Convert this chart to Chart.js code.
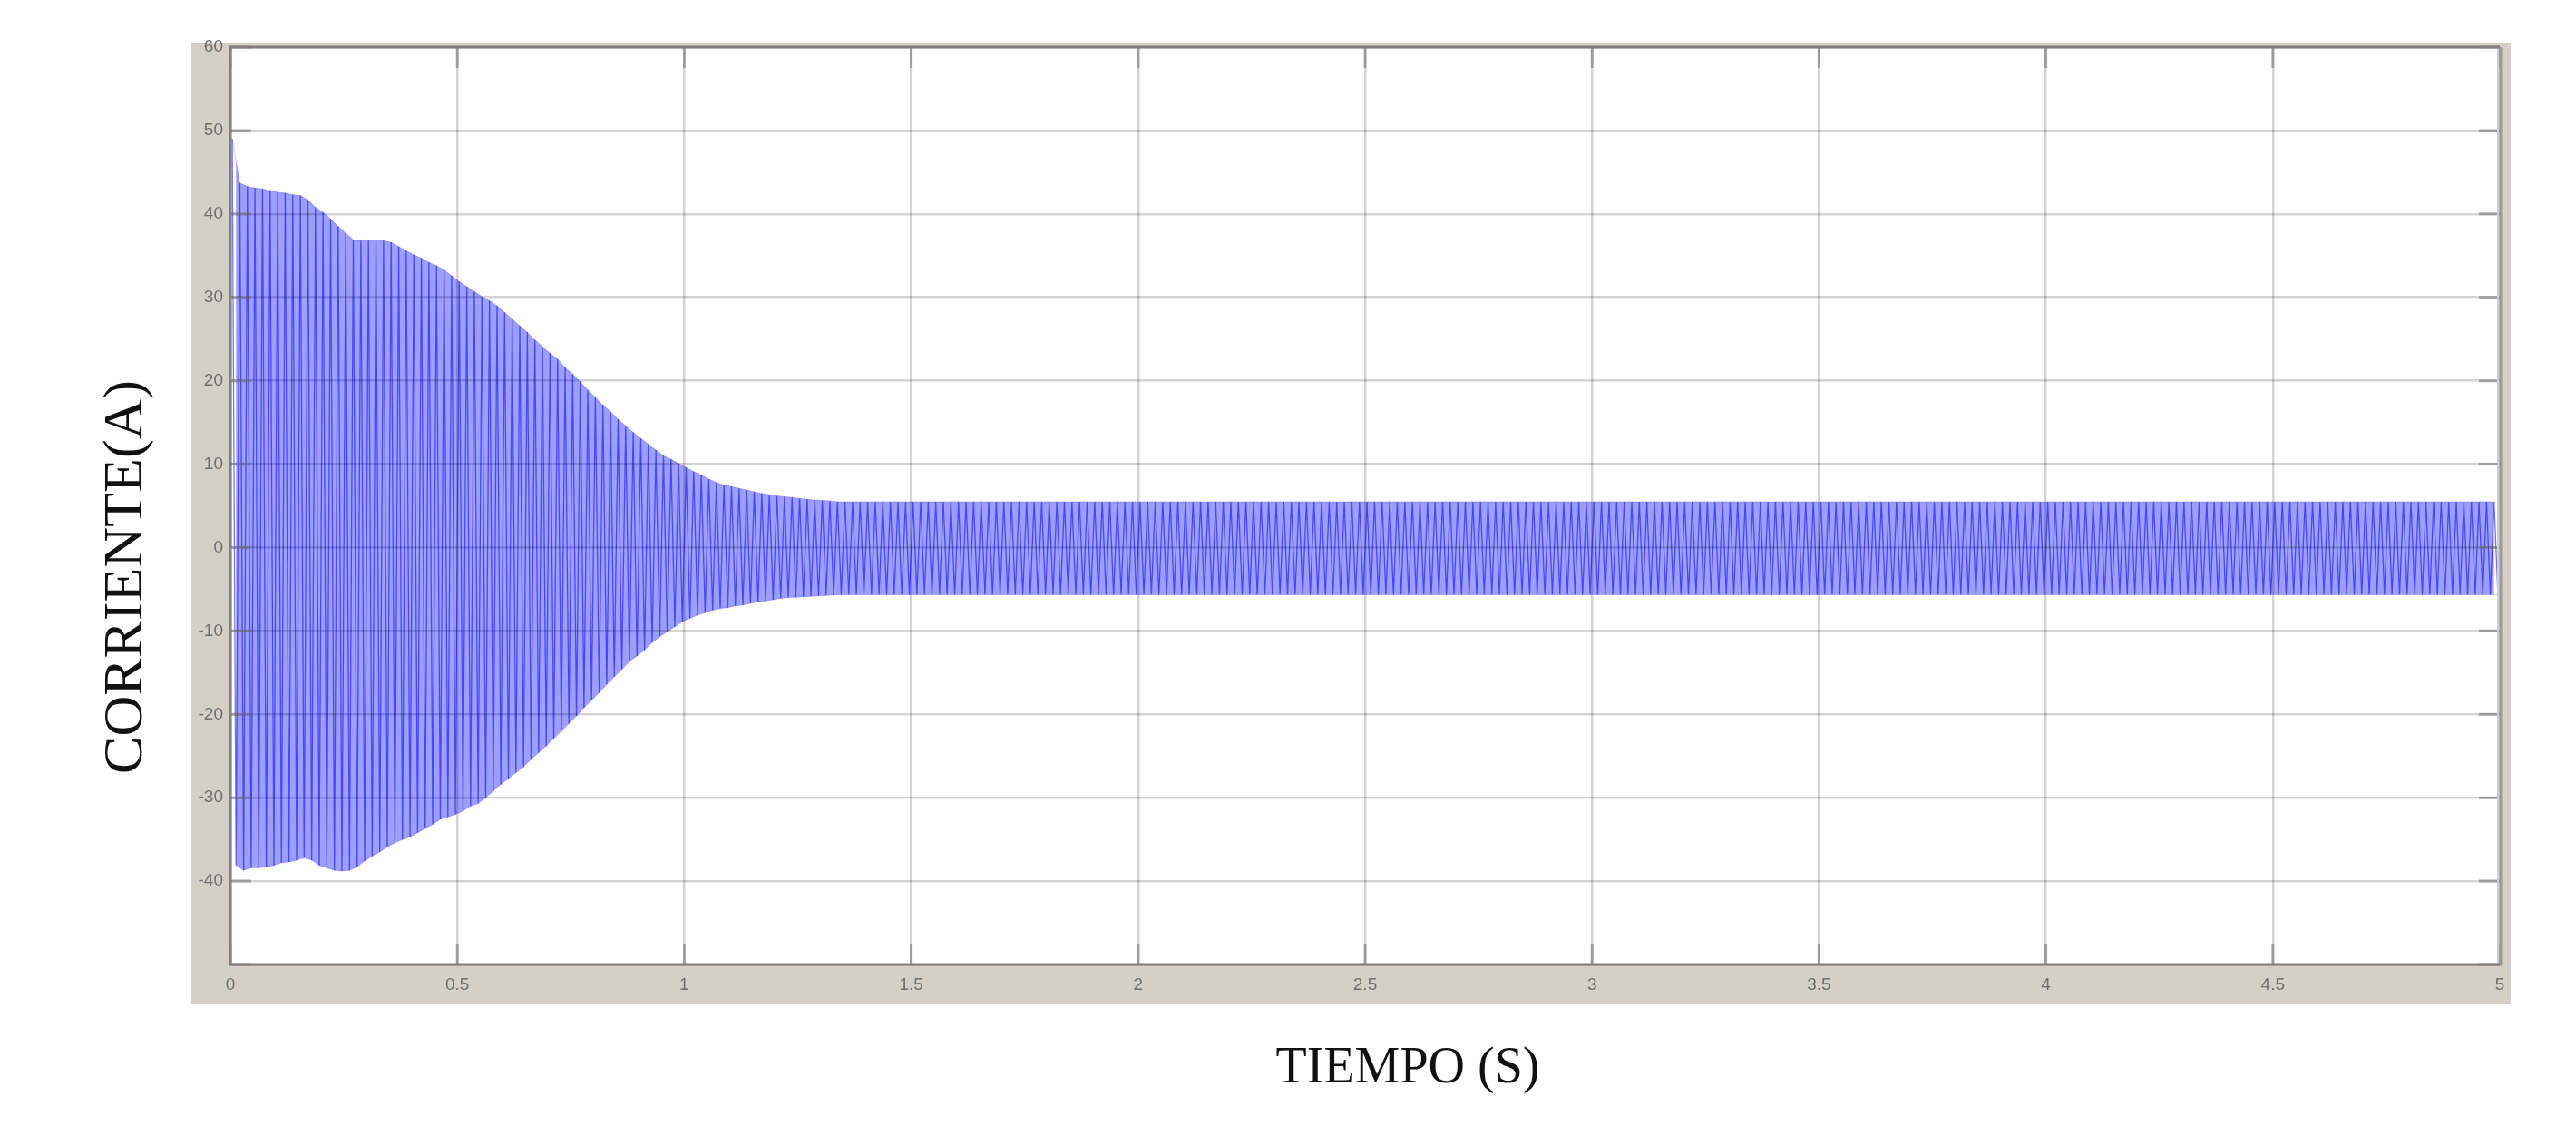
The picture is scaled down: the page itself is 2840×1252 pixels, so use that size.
<!DOCTYPE html>
<html>
<head>
<meta charset="utf-8">
<script src="https://cdn.jsdelivr.net/npm/chart.js@4/dist/chart.umd.min.js"></script>
<style>
  html, body { margin: 0; padding: 0; background: #ffffff; }
  canvas { display: block; }
</style>
</head>
<body>
<canvas id="c" width="2840" height="1252"></canvas>
<script>
// ---- Data ----
const xAxisTitle = "TIEMPO (S)";
const yAxisTitle = "CORRIENTE(A)";
const xTicks = [0, 0.5, 1, 1.5, 2, 2.5, 3, 3.5, 4, 4.5, 5];
const yTicks = [60, 50, 40, 30, 20, 10, 0, -10, -20, -30, -40];
const supplyFrequencyHz = 60; // 30 cycles every 0.5 s

// positive peak of each cycle (A)
const peakCurrent = [
  49.0, 43.7, 43.3, 43.1, 43.0, 42.8, 42.6, 42.5, 42.3, 42.2,
  41.7, 40.8, 40.2, 39.4, 38.5, 37.7, 36.9, 36.8, 36.8, 36.8,
  36.8, 36.6, 36.1, 35.6, 35.1, 34.7, 34.2, 33.8, 33.3, 32.6,
  31.9, 31.3, 30.7, 30.1, 29.6, 29.0, 28.2, 27.4, 26.6, 25.8,
  24.9, 24.1, 23.3, 22.6, 21.6, 20.8, 19.9, 18.9, 18.0, 17.1,
  16.3, 15.4, 14.6, 13.8, 13.1, 12.4, 11.7, 11.0, 10.6, 10.1,
  9.6, 9.1, 8.7, 8.2, 7.8, 7.5, 7.3, 7.1, 6.9, 6.7,
  6.5, 6.35, 6.2, 6.1, 6.0, 5.9, 5.8, 5.7, 5.65, 5.6,
  5.5,5.5,5.5,5.5,5.5,5.5,5.5,5.5,5.5,5.5,5.5,5.5,5.5,5.5,5.5,5.5,5.5,5.5,5.5,5.5,
  5.5,5.5,5.5,5.5,5.5,5.5,5.5,5.5,5.5,5.5,5.5,5.5,5.5,5.5,5.5,5.5,5.5,5.5,5.5,5.5,
  5.5,5.5,5.5,5.5,5.5,5.5,5.5,5.5,5.5,5.5,5.5,5.5,5.5,5.5,5.5,5.5,5.5,5.5,5.5,5.5,
  5.5,5.5,5.5,5.5,5.5,5.5,5.5,5.5,5.5,5.5,5.5,5.5,5.5,5.5,5.5,5.5,5.5,5.5,5.5,5.5,
  5.5,5.5,5.5,5.5,5.5,5.5,5.5,5.5,5.5,5.5,5.5,5.5,5.5,5.5,5.5,5.5,5.5,5.5,5.5,5.5,
  5.5,5.5,5.5,5.5,5.5,5.5,5.5,5.5,5.5,5.5,5.5,5.5,5.5,5.5,5.5,5.5,5.5,5.5,5.5,5.5,
  5.5,5.5,5.5,5.5,5.5,5.5,5.5,5.5,5.5,5.5,5.5,5.5,5.5,5.5,5.5,5.5,5.5,5.5,5.5,5.5,
  5.5,5.5,5.5,5.5,5.5,5.5,5.5,5.5,5.5,5.5,5.5,5.5,5.5,5.5,5.5,5.5,5.5,5.5,5.5,5.5,
  5.5,5.5,5.5,5.5,5.5,5.5,5.5,5.5,5.5,5.5,5.5,5.5,5.5,5.5,5.5,5.5,5.5,5.5,5.5,5.5,
  5.5,5.5,5.5,5.5,5.5,5.5,5.5,5.5,5.5,5.5,5.5,5.5,5.5,5.5,5.5,5.5,5.5,5.5,5.5,5.5,
  5.5,5.5,5.5,5.5,5.5,5.5,5.5,5.5,5.5,5.5,5.5,5.5,5.5,5.5,5.5,5.5,5.5,5.5,5.5,5.5
];

// negative peak of each cycle (A)
const troughCurrent = [
  -38.1, -38.7, -38.4, -38.4, -38.3, -38.1, -37.8, -37.7, -37.5, -37.2,
  -37.5, -38.1, -38.4, -38.7, -38.8, -38.7, -38.3, -37.6, -37.0, -36.5,
  -35.9, -35.4, -35.0, -34.7, -34.2, -33.7, -33.2, -32.6, -32.3, -32.0,
  -31.6, -31.0, -30.7, -30.0, -29.2, -28.4, -27.7, -27.0, -26.3, -25.4,
  -24.6, -23.8, -22.9, -22.0, -21.1, -20.2, -19.2, -18.3, -17.4, -16.4,
  -15.5, -14.6, -13.7, -13.0, -12.3, -11.4, -10.7, -10.1, -9.5, -8.9,
  -8.5, -8.1, -7.8, -7.5, -7.3, -7.2, -7.0, -6.9, -6.7, -6.5,
  -6.4, -6.25, -6.1, -6.0, -5.95, -5.9, -5.85, -5.8, -5.75, -5.7,
  -5.65,-5.65,-5.65,-5.65,-5.65,-5.65,-5.65,-5.65,-5.65,-5.65,-5.65,-5.65,-5.65,-5.65,-5.65,-5.65,-5.65,-5.65,-5.65,-5.65,
  -5.65,-5.65,-5.65,-5.65,-5.65,-5.65,-5.65,-5.65,-5.65,-5.65,-5.65,-5.65,-5.65,-5.65,-5.65,-5.65,-5.65,-5.65,-5.65,-5.65,
  -5.65,-5.65,-5.65,-5.65,-5.65,-5.65,-5.65,-5.65,-5.65,-5.65,-5.65,-5.65,-5.65,-5.65,-5.65,-5.65,-5.65,-5.65,-5.65,-5.65,
  -5.65,-5.65,-5.65,-5.65,-5.65,-5.65,-5.65,-5.65,-5.65,-5.65,-5.65,-5.65,-5.65,-5.65,-5.65,-5.65,-5.65,-5.65,-5.65,-5.65,
  -5.65,-5.65,-5.65,-5.65,-5.65,-5.65,-5.65,-5.65,-5.65,-5.65,-5.65,-5.65,-5.65,-5.65,-5.65,-5.65,-5.65,-5.65,-5.65,-5.65,
  -5.65,-5.65,-5.65,-5.65,-5.65,-5.65,-5.65,-5.65,-5.65,-5.65,-5.65,-5.65,-5.65,-5.65,-5.65,-5.65,-5.65,-5.65,-5.65,-5.65,
  -5.65,-5.65,-5.65,-5.65,-5.65,-5.65,-5.65,-5.65,-5.65,-5.65,-5.65,-5.65,-5.65,-5.65,-5.65,-5.65,-5.65,-5.65,-5.65,-5.65,
  -5.65,-5.65,-5.65,-5.65,-5.65,-5.65,-5.65,-5.65,-5.65,-5.65,-5.65,-5.65,-5.65,-5.65,-5.65,-5.65,-5.65,-5.65,-5.65,-5.65,
  -5.65,-5.65,-5.65,-5.65,-5.65,-5.65,-5.65,-5.65,-5.65,-5.65,-5.65,-5.65,-5.65,-5.65,-5.65,-5.65,-5.65,-5.65,-5.65,-5.65,
  -5.65,-5.65,-5.65,-5.65,-5.65,-5.65,-5.65,-5.65,-5.65,-5.65,-5.65,-5.65,-5.65,-5.65,-5.65,-5.65,-5.65,-5.65,-5.65,-5.65,
  -5.65,-5.65,-5.65,-5.65,-5.65,-5.65,-5.65,-5.65,-5.65,-5.65,-5.65,-5.65,-5.65,-5.65,-5.65,-5.65,-5.65,-5.65,-5.65,-5.65
];

// ---- Build the waveform points (peak then trough of each cycle) ----
const waveform = [];
const upperEnvelope = [];
const lowerEnvelope = [];
for (let k = 0; k < peakCurrent.length; k++) {
  const tp = (k + 0.25) / supplyFrequencyHz;
  const tt = (k + 0.75) / supplyFrequencyHz;
  waveform.push({ x: tp, y: peakCurrent[k] });
  waveform.push({ x: tt, y: troughCurrent[k] });
  upperEnvelope.push({ x: tp, y: peakCurrent[k] });
  lowerEnvelope.push({ x: tt, y: troughCurrent[k] });
}

const FRAME_GRAY = '#d4d0c8';

const framePlugin = {
  id: 'frame',
  beforeDraw(chart) {
    const { ctx, chartArea: a } = chart;
    ctx.save();
    ctx.fillStyle = '#ffffff';
    ctx.fillRect(0, 0, chart.width, chart.height);
    ctx.fillStyle = FRAME_GRAY;
    ctx.fillRect(a.left - 43, a.top - 5, (a.right + 12) - (a.left - 43), (a.bottom + 44) - (a.top - 5));
    ctx.fillStyle = '#ffffff';
    ctx.fillRect(a.left, a.top, a.right - a.left, a.bottom - a.top);
    ctx.restore();
  },
  afterDraw(chart) {
    const { ctx, chartArea: a, scales } = chart;
    ctx.save();
    // inner tick marks
    ctx.strokeStyle = 'rgba(110,110,110,0.55)';
    ctx.lineWidth = 3;
    const tl = 23;
    scales.y.ticks.forEach(t => {
      const py = scales.y.getPixelForValue(t.value);
      ctx.beginPath();
      ctx.moveTo(a.left, py); ctx.lineTo(a.left + tl, py);
      ctx.moveTo(a.right, py); ctx.lineTo(a.right - tl, py);
      ctx.stroke();
    });
    scales.x.ticks.forEach(t => {
      const px = scales.x.getPixelForValue(t.value);
      ctx.beginPath();
      ctx.moveTo(px, a.bottom); ctx.lineTo(px, a.bottom - tl);
      ctx.moveTo(px, a.top); ctx.lineTo(px, a.top + tl);
      ctx.stroke();
    });
    // plot box border
    ctx.strokeStyle = '#7f7f7f';
    ctx.lineWidth = 3;
    ctx.beginPath();
    ctx.moveTo(a.right, a.top);
    ctx.lineTo(a.left, a.top);
    ctx.lineTo(a.left, a.bottom);
    ctx.lineTo(a.right + 2, a.bottom);
    ctx.stroke();
    ctx.strokeStyle = '#9a9a9a';
    ctx.beginPath();
    ctx.moveTo(a.right + 1, a.top);
    ctx.lineTo(a.right + 1, a.bottom);
    ctx.stroke();
    ctx.strokeStyle = '#d0d0d0';
    ctx.lineWidth = 2;
    ctx.beginPath();
    ctx.moveTo(a.right - 2, a.top + 2);
    ctx.lineTo(a.right - 2, a.bottom - 2);
    ctx.stroke();

    // axis titles
    ctx.fillStyle = '#111111';
    ctx.textAlign = 'center';
    ctx.textBaseline = 'middle';
    ctx.font = '56px "Liberation Serif", "Times New Roman", serif';
    ctx.fillText(xAxisTitle, a.left + 1298, a.bottom + 115);
    ctx.save();
    ctx.translate(a.left - 114, a.top + 584);
    ctx.rotate(-Math.PI / 2);
    ctx.font = '62px "Liberation Serif", "Times New Roman", serif';
    ctx.fillText(yAxisTitle, 0, 0);
    ctx.restore();
    ctx.restore();
  }
};

const tickFont = { family: '"Liberation Sans", Arial, sans-serif', size: 19 };
const gridStyle = { color: 'rgba(0,0,0,0.17)', lineWidth: 2.5, drawTicks: false, z: 1 };

new Chart(document.getElementById('c'), {
  type: 'line',
  data: {
    datasets: [{
      // the oscillating current
      data: waveform,
      borderColor: 'rgba(0,0,255,0.55)',
      borderWidth: 1.3,
      pointRadius: 0,
      tension: 0,
      fill: false
    }, {
      // upper envelope of the dense oscillation (filled down to the lower one)
      data: upperEnvelope,
      borderColor: 'rgba(0,0,255,0.2)',
      backgroundColor: 'rgba(20,20,255,0.41)',
      borderWidth: 1,
      pointRadius: 0,
      tension: 0,
      fill: '+1'
    }, {
      data: lowerEnvelope,
      borderColor: 'rgba(0,0,255,0.2)',
      borderWidth: 1,
      pointRadius: 0,
      tension: 0,
      fill: false
    }]
  },
  options: {
    responsive: false,
    animation: false,
    devicePixelRatio: 1,
    events: [],
    layout: { padding: { left: 0, top: 52, right: 84, bottom: 0 } },
    plugins: { legend: { display: false }, tooltip: { enabled: false }, title: { display: false } },
    scales: {
      x: {
        type: 'linear',
        min: xTicks[0],
        max: xTicks[xTicks.length - 1],
        afterFit(s) { s.height = 189; },
        afterBuildTicks(s) { s.ticks = xTicks.map(v => ({ value: v })); },
        ticks: { font: tickFont, color: '#6f6f6f', padding: 11, maxRotation: 0, autoSkip: false,
                 callback: v => String(v) },
        grid: gridStyle,
        border: { display: false }
      },
      y: {
        type: 'linear',
        min: -50,
        max: 60,
        afterFit(s) { s.width = 254; },
        afterBuildTicks(s) { s.ticks = [...yTicks, -50].map(v => ({ value: v })); },
        ticks: { font: tickFont, color: '#6f6f6f', padding: 8, autoSkip: false,
                 callback: v => (yTicks.includes(v) ? String(v) : '') },
        grid: gridStyle,
        border: { display: false }
      }
    }
  },
  plugins: [framePlugin]
});
</script>
</body>
</html>
